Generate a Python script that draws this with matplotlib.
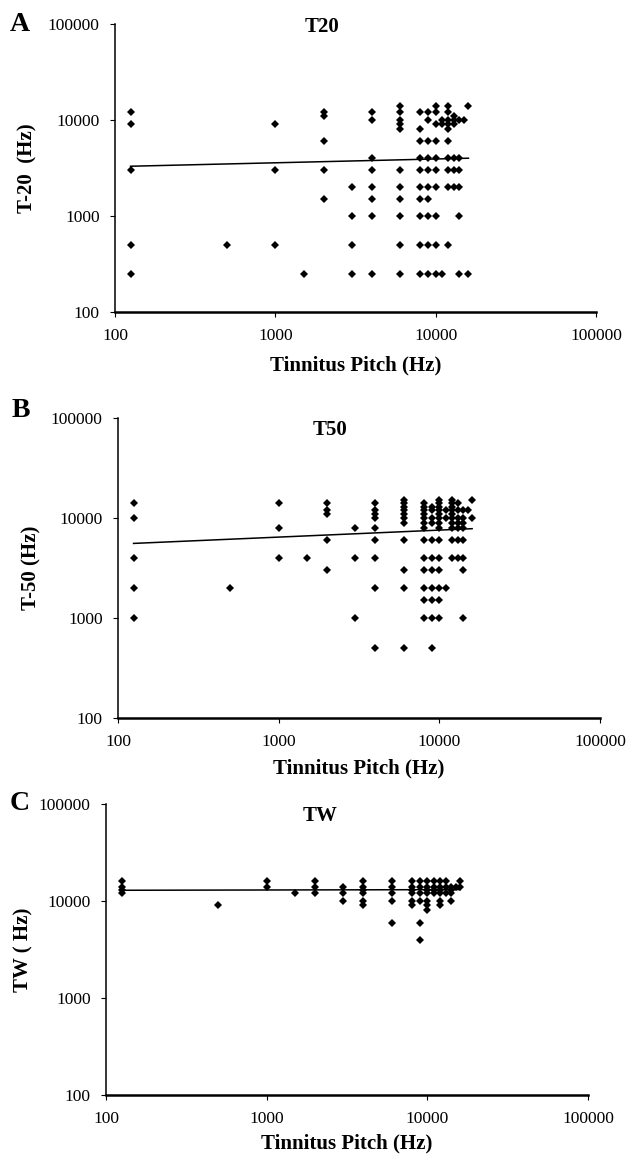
import matplotlib.pyplot as plt
import numpy as np
from matplotlib.ticker import FixedLocator, FormatStrFormatter, NullLocator

plt.rcParams['font.family'] = ['Liberation Serif', 'DejaVu Serif']

# tinnitus pitch (Hz) and the frequencies measured at each pitch
t20_pitch = [125, 500, 1000, 1500, 2000, 3000, 4000, 6000, 8000, 9000,
             10000, 11000, 12000, 13000, 14000, 15000, 16000]
t20_values = [
    [12000, 9000, 3000, 500, 250],
    [500],
    [9000, 3000, 500],
    [250],
    [12000, 11000, 6000, 3000, 1500],
    [2000, 1000, 500, 250],
    [12000, 10000, 4000, 3000, 2000, 1500, 1000, 250],
    [14000, 12000, 10000, 9000, 8000, 3000, 2000, 1500, 1000, 500, 250],
    [12000, 8000, 6000, 4000, 3000, 2000, 1500, 1000, 500, 250],
    [12000, 10000, 6000, 4000, 3000, 2000, 1500, 1000, 500, 250],
    [14000, 12000, 9000, 6000, 4000, 3000, 2000, 1000, 500, 250],
    [10000, 9000, 250],
    [14000, 12000, 10000, 9000, 8000, 6000, 4000, 3000, 2000, 500],
    [11000, 10000, 9000, 4000, 3000, 2000],
    [10000, 4000, 3000, 2000, 1000, 250],
    [10000],
    [14000, 250],
]

t50_pitch = [125, 500, 1000, 1500, 2000, 3000, 4000, 6000, 8000, 9000,
             10000, 11000, 12000, 13000, 14000, 15000, 16000]
t50_values = [
    [14000, 10000, 4000, 2000, 1000],
    [2000],
    [14000, 8000, 4000],
    [4000],
    [14000, 12000, 11000, 6000, 3000],
    [8000, 4000, 1000],
    [14000, 12000, 11000, 10000, 8000, 6000, 4000, 2000, 500],
    [15000, 14000, 13000, 12000, 11000, 10000, 9000, 6000, 3000, 2000, 500],
    [14000, 13000, 12000, 11000, 10000, 9000, 8000, 6000, 4000, 3000, 2000, 1500, 1000],
    [13000, 12000, 10000, 9000, 6000, 4000, 3000, 2000, 1500, 1000, 500],
    [15000, 14000, 13000, 12000, 11000, 10000, 9000, 8000, 6000, 4000, 3000, 2000, 1500, 1000],
    [12000, 10000, 2000],
    [15000, 14000, 13000, 12000, 11000, 10000, 9000, 8000, 6000, 4000],
    [14000, 12000, 10000, 9000, 8000, 6000, 4000],
    [12000, 10000, 9000, 8000, 6000, 4000, 3000, 1000],
    [12000],
    [15000, 10000],
]

tw_pitch = [125, 500, 1000, 1500, 2000, 3000, 4000, 6000, 8000, 9000,
            10000, 11000, 12000, 13000, 14000, 15000, 16000]
tw_values = [
    [16000, 14000, 13000, 12000],
    [9000],
    [16000, 14000],
    [12000],
    [16000, 14000, 12000],
    [14000, 12000, 10000],
    [16000, 14000, 13000, 12000, 10000, 9000],
    [16000, 14000, 12000, 10000, 6000],
    [16000, 14000, 13000, 12000, 10000, 9000],
    [16000, 14000, 12000, 10000, 6000, 4000],
    [16000, 14000, 13000, 12000, 10000, 9000, 8000],
    [16000, 14000, 13000, 12000],
    [16000, 14000, 13000, 12000, 10000, 9000],
    [16000, 14000, 12000],
    [14000, 13000, 12000, 10000],
    [14000],
    [16000, 14000],
]

# power trendlines y = a * x**b
t20_fit = (2725, 0.0397)
t50_fit = (3974, 0.0699)
tw_fit = (12704, 0.0032)

decades = [100, 1000, 10000, 100000]


def flatten(pitch, values):
    xs, ys = [], []
    for p, vals in zip(pitch, values):
        for v in vals:
            xs.append(p)
            ys.append(v)
    return xs, ys


def draw_panel(ax, pitch, values, fit, title, ylabel, letter, title_pos,
               ylab_x, xlab_pad, letter_pos):
    xs, ys = flatten(pitch, values)
    ax.plot(xs, ys, "D", color="black", markersize=4.0, markeredgewidth=0)
    xt = np.logspace(np.log10(min(xs)), np.log10(max(xs)), 50)
    ax.plot(xt, fit[0] * xt ** fit[1], color="black", linewidth=1.1)

    ax.set_xscale("log")
    ax.set_yscale("log")
    ax.set_xlim(100, 100000)
    ax.set_ylim(100, 100000)
    for axis in (ax.xaxis, ax.yaxis):
        axis.set_major_locator(FixedLocator(decades))
        axis.set_major_formatter(FormatStrFormatter('%d'))
        axis.set_minor_locator(NullLocator())
    ax.tick_params(labelsize=12.5, length=3.5, width=0.8, direction="out",
                   color="black")
    ax.tick_params(axis="x", pad=8)
    ax.tick_params(axis="y", pad=7.5)

    ax.spines["top"].set_visible(False)
    ax.spines["right"].set_visible(False)
    ax.spines["left"].set_linewidth(1.1)
    ax.spines["bottom"].set_linewidth(1.8)

    ax.text(title_pos[0], title_pos[1], title, transform=ax.transAxes,
            ha="center", va="center", fontsize=15, fontweight="bold")
    ax.set_xlabel("Tinnitus Pitch (Hz)", fontsize=15, fontweight="bold",
                  labelpad=xlab_pad)
    ax.set_ylabel(ylabel, fontsize=15, fontweight="bold")
    ax.yaxis.set_label_coords(ylab_x, 0.5)
    ax.text(letter_pos[0], letter_pos[1], letter, transform=ax.transAxes,
            ha="left", va="center", fontsize=20, fontweight="bold")


fig = plt.figure(figsize=(6.33, 11.54), dpi=100)

ax_a = fig.add_axes([0.1817, 0.7296, 0.760, 0.2496])
ax_b = fig.add_axes([0.1864, 0.3778, 0.7615, 0.2600])
ax_c = fig.add_axes([0.1675, 0.0511, 0.7615, 0.2522])

draw_panel(ax_a, t20_pitch, t20_values, t20_fit, "T20", "T-20  (Hz)", "A",
           (0.43, 0.99), -0.162, 8, (-0.218, 1.0))
draw_panel(ax_b, t50_pitch, t50_values, t50_fit, "T50", "T-50 (Hz)", "B",
           (0.44, 0.96), -0.158, 6, (-0.22, 1.025))
draw_panel(ax_c, tw_pitch, tw_values, tw_fit, "TW", "TW ( Hz)", "C",
           (0.444, 0.959), -0.15, 5, (-0.199, 1.0))

fig.savefig("out.png", dpi=100)
